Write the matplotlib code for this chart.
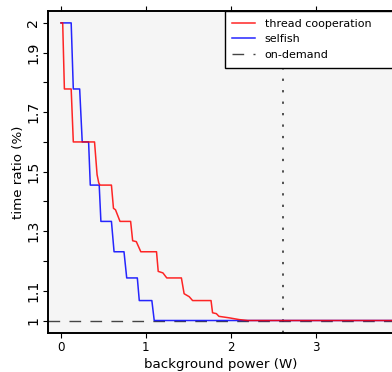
import matplotlib
matplotlib.use('Agg')
import matplotlib.pyplot as plt

# ------------------------------------------------------------------ DATA
# selfish (blue)
selfish_x = [0.0, 0.12, 0.145, 0.22, 0.25, 0.325, 0.345, 0.45, 0.47, 0.594,
             0.625, 0.742, 0.774, 0.899, 0.922, 1.07, 1.098, 3.95]
selfish_y = [2.0, 2.0, 1.778, 1.778, 1.6, 1.6, 1.455, 1.455, 1.333, 1.333,
             1.231, 1.231, 1.143, 1.143, 1.067, 1.067, 1.0, 1.0]

# thread cooperation (red)
coop_x = [0.0, 0.02, 0.04, 0.12, 0.145, 0.395, 0.425, 0.445, 0.46, 0.594,
          0.618, 0.642, 0.695, 0.82, 0.844, 0.887, 0.94, 1.125, 1.145, 1.2,
          1.246, 1.418, 1.45, 1.51, 1.55, 1.767, 1.785, 1.83, 1.86, 1.98,
          2.1, 2.2, 3.95]
coop_y = [2.0, 2.0, 1.778, 1.778, 1.6, 1.6, 1.49, 1.462, 1.455, 1.455,
          1.377, 1.372, 1.333, 1.333, 1.268, 1.265, 1.231, 1.231, 1.165, 1.16,
          1.143, 1.143, 1.09, 1.08, 1.067, 1.067, 1.026, 1.023, 1.014, 1.009,
          1.003, 1.0, 1.0]

on_demand = 1.0
vline_x = 2.62

yticks = [1.0, 1.1, 1.2, 1.3, 1.4, 1.5, 1.6, 1.7, 1.8, 1.9, 2.0]
ytick_labels = ['1', '1.1', '', '1.3', '', '1.5', '', '1.7', '', '1.9', '2']
xticks = [0, 1, 2, 3]

# ------------------------------------------------------------------ FIGURE
fig = plt.figure(figsize=(3.92, 3.72), dpi=100)
ax = fig.add_axes([48 / 392, 1 - 333 / 372, 345 / 392, 322 / 372])
ax.set_facecolor('#f5f5f5')

ax.axhline(on_demand, color='#444444', lw=1.0, ls=(0, (8.4, 6.7)),
           label='on-demand', zorder=1)
ax.axvline(vline_x, color='#222222', lw=1.1, ls=(0, (1.5, 6)), zorder=1)
ax.plot(selfish_x, selfish_y, color='#0000ff', lw=1.1, alpha=0.85,
        label='selfish', zorder=2)
ax.plot(coop_x, coop_y, color='#ff0000', lw=1.1, alpha=0.85,
        label='thread cooperation', zorder=3)

ax.set_xlim(-0.153, 3.91)
ax.set_ylim(0.958, 2.04)

ax.set_xticks(xticks)
ax.set_xticklabels([str(t) for t in xticks], fontsize=8.6)
ax.set_yticks(yticks)
ax.set_yticklabels(ytick_labels, fontsize=10.2, rotation=90, va='center')
ax.tick_params(axis='x', top=True, direction='out', length=3.6, width=0.8,
               pad=2.5)
ax.tick_params(axis='y', direction='out', length=3.6, width=0.8, pad=2)

for s in ['left', 'bottom', 'top']:
    ax.spines[s].set_linewidth(1.4)
ax.spines['right'].set_visible(False)

ax.set_xlabel('background power (W)', fontsize=9.6, labelpad=2.5)
ax.set_ylabel('time ratio (%)', fontsize=9.6, labelpad=1)

# legend: red, blue, dashed
h, l = ax.get_legend_handles_labels()
order = [2, 1, 0]
leg = ax.legend([h[i] for i in order], [l[i] for i in order],
                loc='upper left', bbox_to_anchor=(0.512, 1.0, 0.5, 0),
                mode='expand', fontsize=8, frameon=True, fancybox=False,
                edgecolor='black', framealpha=1, borderaxespad=0,
                borderpad=0.7, handlelength=2.0, handletextpad=0.9,
                labelspacing=0.5)
leg.get_frame().set_linewidth(1.0)

plt.savefig('out.png', dpi=100)
